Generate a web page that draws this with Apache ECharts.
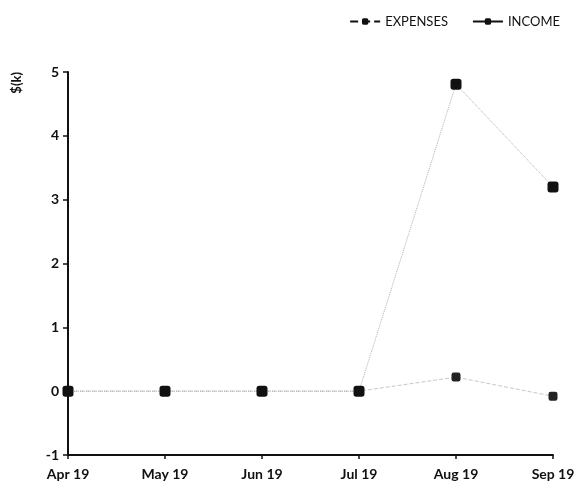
<!DOCTYPE html>
<html>
<head>
<meta charset="utf-8">
<script src="https://cdn.jsdelivr.net/npm/echarts@6/dist/echarts.min.js"></script>
<style>
  html, body { margin: 0; padding: 0; background: #fff; }
  #chart { width: 583px; height: 495px; }
</style>
</head>
<body>
<div id="chart"></div>
<script>
// Monthly figures in thousands of dollars
var months = ['Apr 19', 'May 19', 'Jun 19', 'Jul 19', 'Aug 19', 'Sep 19'];
var expenses = [0, 0, 0, 0, 0.22, -0.08];
var income = [0, 0, 0, 0, 4.81, 3.2];
var yTicks = { min: -1, max: 5, step: 1 };

var FONT = 'Lato, "Open Sans", sans-serif';
var chart = echarts.init(document.getElementById('chart'));

chart.setOption({
  backgroundColor: '#ffffff',
  animation: false,
  grid: { left: 68, right: 30, top: 72, bottom: 40 },
  legend: {
    top: 10,
    right: 18,
    itemWidth: 30,
    itemHeight: 8,
    itemGap: 24,
    textStyle: { fontFamily: FONT, fontSize: 13, color: '#111' },
    itemStyle: { color: '#111' },
    lineStyle: { color: '#111', width: 2 },
    data: [
      { name: 'EXPENSES', itemStyle: { color: '#111' }, lineStyle: { color: '#111', width: 2, type: 'dashed' } },
      { name: 'INCOME', itemStyle: { color: '#111' }, lineStyle: { color: '#111', width: 2, type: 'solid' } }
    ]
  },
  graphic: [{
    type: 'text',
    left: 10,
    top: 72,
    rotation: Math.PI / 2,
    style: { text: '$(k)', fontFamily: FONT, fontSize: 13, fontWeight: 'bold', fill: '#111' }
  }],
  xAxis: {
    type: 'category',
    data: months,
    boundaryGap: false,
    axisLine: { onZero: false, lineStyle: { color: '#111', width: 2 } },
    axisTick: { show: true, alignWithLabel: true, length: 4, lineStyle: { color: '#111', width: 1.5 } },
    axisLabel: { fontFamily: FONT, fontSize: 14, fontWeight: 'bold', color: '#111', margin: 12 },
    splitLine: { show: false }
  },
  yAxis: {
    type: 'value',
    min: yTicks.min,
    max: yTicks.max,
    interval: yTicks.step,
    axisLine: { show: true, lineStyle: { color: '#111', width: 2 } },
    axisTick: { show: true, length: 5, lineStyle: { color: '#111', width: 1.5 } },
    axisLabel: { fontFamily: FONT, fontSize: 14, fontWeight: 'bold', color: '#111', margin: 9 },
    splitLine: { show: false }
  },
  series: [
    {
      name: 'EXPENSES',
      type: 'line',
      data: expenses,
      symbol: 'roundRect',
      symbolSize: 9,
      itemStyle: { color: '#222' },
      lineStyle: { color: '#c8c8c8', width: 1, type: 'dashed' },
      z: 3
    },
    {
      name: 'INCOME',
      type: 'line',
      data: income,
      symbol: 'roundRect',
      symbolSize: 11,
      itemStyle: { color: '#111' },
      lineStyle: { color: '#b0b0b0', width: 1, type: 'dotted' },
      z: 4
    }
  ]
});
</script>
</body>
</html>
